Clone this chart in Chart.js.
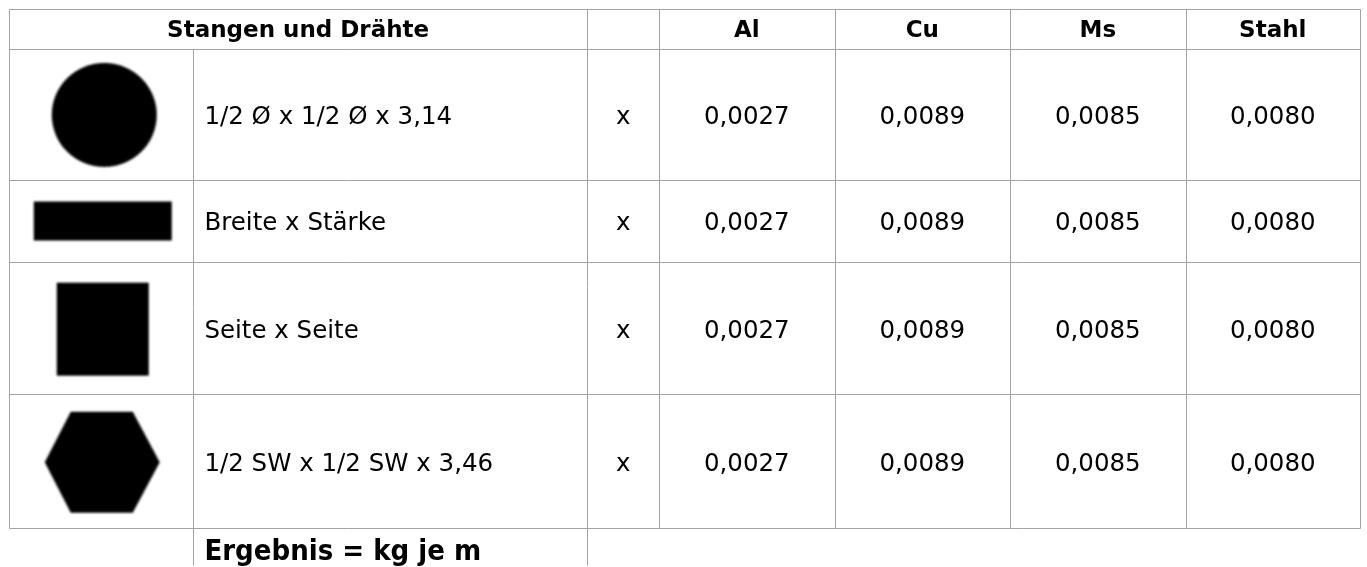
<!DOCTYPE html>
<html>
<head>
<meta charset="utf-8">
<script src="https://cdn.jsdelivr.net/npm/chart.js@4/dist/chart.umd.min.js"></script>
<style>
  html, body { margin: 0; padding: 0; background: #fff; }
  #table { display: block; }
</style>
</head>
<body>
<canvas id="table" width="1367" height="567"></canvas>
<script>
// Table content
const title = 'Stangen und Drähte';
const materials = ['Al', 'Cu', 'Ms', 'Stahl'];
const factors = [0.0027, 0.0089, 0.0085, 0.0080];
const shapes = ['circle', 'bar', 'square', 'hexagon'];
const formulas = ['1/2 Ø x 1/2 Ø x 3,14', 'Breite x Stärke', 'Seite x Seite', '1/2 SW x 1/2 SW x 3,46'];
const operator = 'x';
const result = 'Ergebnis = kg je m';

// Layout of the grid (page pixels)
const colEdges = [7, 192, 587, 659, 835, 1011, 1187, 1362];
const rowEdges = [7, 47, 179, 262, 395, 530];

const fmt = v => v.toFixed(4).replace('.', ',');

// Builds a blurred silhouette used as point style for the shape column.
function shapeImage(kind) {
  const dims = { circle: [105, 104], bar: [138, 39], square: [92, 93], hexagon: [115, 101] }[kind];
  const pad = 4;
  const c = document.createElement('canvas');
  c.width = dims[0] + pad * 2;
  c.height = dims[1] + pad * 2;
  const g = c.getContext('2d');
  g.filter = 'blur(1.2px)';
  g.fillStyle = '#000';
  const w = dims[0], h = dims[1];
  g.beginPath();
  if (kind === 'circle') {
    g.ellipse(pad + w / 2, pad + h / 2, w / 2, h / 2, 0, 0, Math.PI * 2);
  } else if (kind === 'hexagon') {
    g.moveTo(pad, pad + h / 2);
    g.lineTo(pad + 26, pad);
    g.lineTo(pad + w - 27, pad);
    g.lineTo(pad + w, pad + h / 2);
    g.lineTo(pad + w - 27, pad + h);
    g.lineTo(pad + 26, pad + h);
    g.closePath();
  } else {
    g.rect(pad, pad, w, h);
  }
  g.fill();
  return c;
}

const rowMid = i => (rowEdges[i + 1] + rowEdges[i + 2]) / 2;
const shapeCenters = { circle: [102.5, 113.7], bar: [101, 220.5], square: [101, 329.5], hexagon: [100.5, 463.5] };

const tablePlugin = {
  id: 'tableGrid',
  beforeDatasetsDraw(chart) {
    const { ctx, scales: { x, y } } = chart;
    const px = v => Math.round(x.getPixelForValue(v)) + 0.5;
    const py = v => Math.round(y.getPixelForValue(v)) + 0.5;
    ctx.save();
    ctx.fillStyle = '#fff';
    ctx.fillRect(0, 0, chart.width, chart.height);

    // grid lines
    ctx.strokeStyle = '#a3a3a3';
    ctx.lineWidth = 1;
    ctx.beginPath();
    rowEdges.forEach(r => { ctx.moveTo(px(colEdges[0]), py(r)); ctx.lineTo(px(colEdges[7]), py(r)); });
    colEdges.forEach((c, i) => {
      const top = i === 1 ? rowEdges[1] : rowEdges[0];
      const bottom = (i === 1 || i === 2) ? 567 : rowEdges[5];
      ctx.moveTo(px(c), py(top)); ctx.lineTo(px(c), py(bottom));
    });
    ctx.stroke();

    ctx.fillStyle = '#000';
    // header row
    ctx.font = 'bold 23px "DejaVu Sans"';
    ctx.textAlign = 'center';
    ctx.textBaseline = 'alphabetic';
    const hb = y.getPixelForValue(rowEdges[0] + 28);
    ctx.fillText(title, x.getPixelForValue((colEdges[0] + colEdges[2]) / 2), hb);
    materials.forEach((m, j) => {
      ctx.fillText(m, x.getPixelForValue((colEdges[3 + j] + colEdges[4 + j]) / 2), hb);
    });

    // body rows
    ctx.font = '24.5px "DejaVu Sans"';
    formulas.forEach((f, i) => {
      const base = y.getPixelForValue(rowMid(i) + 9.5);
      ctx.textAlign = 'left';
      ctx.fillText(f, x.getPixelForValue(colEdges[1] + 11), base);
      ctx.textAlign = 'center';
      ctx.fillText(operator, x.getPixelForValue((colEdges[2] + colEdges[3]) / 2), base);
      factors.forEach((v, j) => {
        ctx.fillText(fmt(v), x.getPixelForValue((colEdges[3 + j] + colEdges[4 + j]) / 2), base);
      });
    });

    // result line
    ctx.font = 'bold 29px "DejaVu Sans Condensed", "DejaVu Sans"';
    ctx.textAlign = 'left';
    ctx.fillText(result, x.getPixelForValue(colEdges[1] + 11), y.getPixelForValue(562));
    ctx.restore();
  }
};

new Chart(document.getElementById('table'), {
  type: 'scatter',
  data: {
    datasets: [{
      data: shapes.map(s => ({ x: shapeCenters[s][0], y: shapeCenters[s][1] })),
      pointStyle: shapes.map(shapeImage),
      pointRadius: 1,
      pointHoverRadius: 1,
    }]
  },
  options: {
    responsive: false,
    animation: false,
    events: [],
    layout: { padding: 0 },
    plugins: { legend: { display: false }, tooltip: { enabled: false } },
    scales: {
      x: { type: 'linear', min: 0, max: 1367, display: false },
      y: { type: 'linear', min: 0, max: 567, reverse: true, display: false }
    }
  },
  plugins: [tablePlugin]
});
</script>
</body>
</html>
